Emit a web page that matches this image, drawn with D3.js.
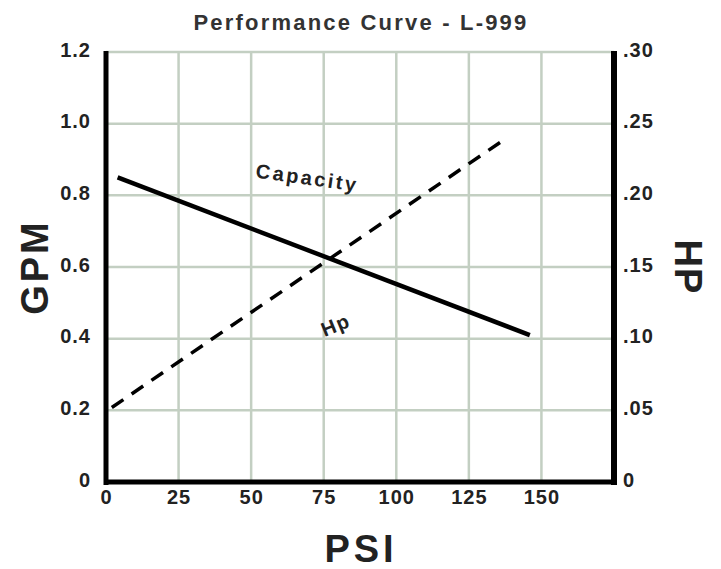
<!DOCTYPE html>
<html>
<head>
<meta charset="utf-8">
<script src="https://cdn.jsdelivr.net/npm/d3@7"></script>
<style>
  body { margin: 0; background: #fff; }
  text { font-family: "Liberation Sans", Arial, sans-serif; font-weight: bold; fill: #222; }
</style>
</head>
<body>
<div id="chart"></div>
<script>
// data
var psiTicks = [0, 25, 50, 75, 100, 125, 150];
var gpmTicks = [0, 0.2, 0.4, 0.6, 0.8, 1.0, 1.2];
var gpmTickLabels = ["0", "0.2", "0.4", "0.6", "0.8", "1.0", "1.2"];
var hpTicks = [0, 0.05, 0.10, 0.15, 0.20, 0.25, 0.30];
var hpTickLabels = ["0", ".05", ".10", ".15", ".20", ".25", ".30"];

// capacity (gpm) vs psi
var capacity = [[4, 0.85], [146, 0.41]];
// horse power vs psi
var hp = [[2, 0.052], [138, 0.24]];

var W = 721, H = 569;
var margin = {top: 52, right: 107, bottom: 87, left: 106};
var width = W - margin.left - margin.right,
    height = H - margin.top - margin.bottom;

var svg = d3.select("#chart").append("svg")
    .attr("width", W)
    .attr("height", H);

var g = svg.append("g")
    .attr("transform", "translate(" + margin.left + "," + margin.top + ")");

var x = d3.scaleLinear().domain([0, 175]).range([0, width]);
var y = d3.scaleLinear().domain([0, 1.2]).range([height, 0]);
var y2 = d3.scaleLinear().domain([0, 0.30]).range([height, 0]);

// grid
var gridColor = "#c3cfc2";
g.selectAll(".vgrid")
    .data(psiTicks.slice(1))
    .enter().append("line")
    .attr("x1", function(d) { return x(d); })
    .attr("x2", function(d) { return x(d); })
    .attr("y1", 0).attr("y2", height)
    .style("stroke", gridColor).style("stroke-width", 2.5);

g.selectAll(".hgrid")
    .data(gpmTicks.slice(1))
    .enter().append("line")
    .attr("x1", 0).attr("x2", width)
    .attr("y1", function(d) { return y(d); })
    .attr("y2", function(d) { return y(d); })
    .style("stroke", gridColor).style("stroke-width", 2.5);

// frame (left, right, bottom)
g.append("line").attr("x1", 0).attr("x2", 0).attr("y1", -1).attr("y2", height + 3)
    .style("stroke", "#000").style("stroke-width", 5);
g.append("line").attr("x1", width).attr("x2", width).attr("y1", -1).attr("y2", height + 3)
    .style("stroke", "#000").style("stroke-width", 6);
g.append("line").attr("x1", -2).attr("x2", width + 3).attr("y1", height).attr("y2", height)
    .style("stroke", "#000").style("stroke-width", 5);

// axes (labels only, lines drawn above)
function styleTicks(sel) {
  sel.select(".domain").remove();
  sel.selectAll("text").attr("font-family", null)
     .style("font-size", "20px").style("letter-spacing", "1px");
}

var axL = g.append("g")
    .call(d3.axisLeft(y).tickValues(gpmTicks).tickSize(0).tickPadding(15)
        .tickFormat(function(d, i) { return gpmTickLabels[i]; }));
styleTicks(axL);
axL.selectAll("text").attr("dy", "0.2em");

var axR = g.append("g")
    .attr("transform", "translate(" + width + ",0)")
    .call(d3.axisRight(y2).tickValues(hpTicks).tickSize(0).tickPadding(9)
        .tickFormat(function(d, i) { return hpTickLabels[i]; }));
styleTicks(axR);
axR.selectAll("text").attr("dy", "0.2em");

var axB = g.append("g")
    .attr("transform", "translate(0," + height + ")")
    .call(d3.axisBottom(x).tickValues(psiTicks).tickSize(0).tickPadding(8));
styleTicks(axB);

// lines
var capLine = d3.line()
    .x(function(d) { return x(d[0]); })
    .y(function(d) { return y(d[1]); });
var hpLine = d3.line()
    .x(function(d) { return x(d[0]); })
    .y(function(d) { return y2(d[1]); });

g.append("path").datum(capacity)
    .attr("d", capLine)
    .style("fill", "none").style("stroke", "#000").style("stroke-width", 4.5);

g.append("path").datum(hp)
    .attr("d", hpLine)
    .style("fill", "none").style("stroke", "#000").style("stroke-width", 3.5)
    .style("stroke-dasharray", "14,10");

// curve labels
g.append("text")
    .attr("transform", "translate(" + x(69) + "," + y(0.83) + ") rotate(8)")
    .style("text-anchor", "middle").style("font-size", "20px").style("letter-spacing", "2.5px")
    .text("Capacity");

g.append("text")
    .attr("transform", "translate(" + x(80) + "," + y2(0.105) + ") rotate(-22)")
    .style("text-anchor", "middle").style("font-size", "20px").style("letter-spacing", "1.5px")
    .text("Hp");

// titles
svg.append("text")
    .attr("x", 361).attr("y", 30)
    .style("text-anchor", "middle").style("font-size", "22px").style("fill", "#333")
    .style("letter-spacing", "2.2px")
    .text("Performance Curve - L-999");

svg.append("text")
    .attr("transform", "translate(48," + (margin.top + height / 2) + ") rotate(-90)")
    .style("text-anchor", "middle").style("font-size", "38px").style("letter-spacing", "3px")
    .text("GPM");

svg.append("text")
    .attr("transform", "translate(675," + (margin.top + height / 2) + ") rotate(90)")
    .style("text-anchor", "middle").style("font-size", "38px").style("letter-spacing", "1px")
    .text("HP");

svg.append("text")
    .attr("x", 361).attr("y", 562)
    .style("text-anchor", "middle").style("font-size", "38px").style("letter-spacing", "4px")
    .text("PSI");
</script>
</body>
</html>
